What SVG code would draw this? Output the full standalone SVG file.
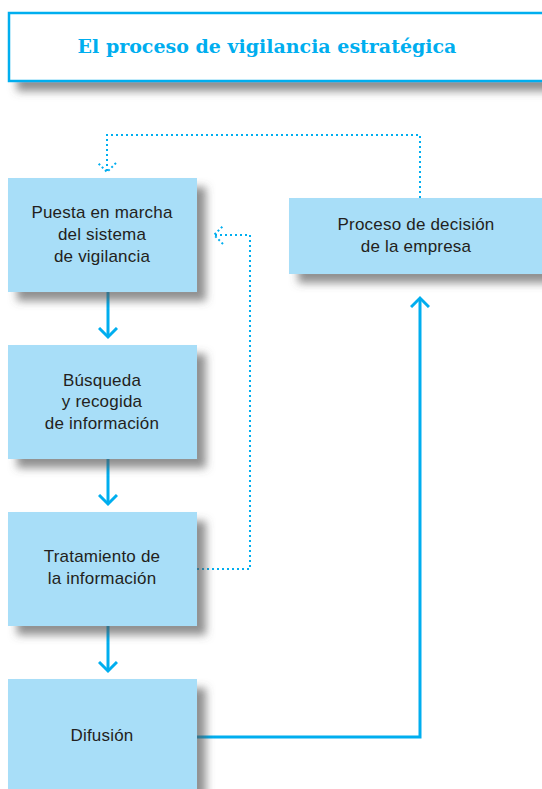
<svg xmlns="http://www.w3.org/2000/svg" width="542" height="789" viewBox="0 0 542 789">
<defs>
<filter id="sh" x="-10%" y="-10%" width="130%" height="140%">
<feDropShadow dx="9" dy="9" stdDeviation="4" flood-color="#555" flood-opacity="0.65"/>
</filter>
<marker id="ah" viewBox="0 0 20 20" refX="10" refY="10" markerWidth="20" markerHeight="20" markerUnits="userSpaceOnUse" orient="auto">
<path d="M1,1 L10,10 L1,19" fill="none" stroke="#00AEEF" stroke-width="3"/>
</marker>
<marker id="ahd" viewBox="0 0 20 20" refX="10" refY="10" markerWidth="20" markerHeight="20" markerUnits="userSpaceOnUse" orient="auto">
<path d="M1,1 L10,10 L1,19" fill="none" stroke="#00AEEF" stroke-width="2" stroke-dasharray="2 2.5"/>
</marker>
</defs>
<style>
.box{fill:#A8DEF8;filter:url(#sh)}
.t{font-family:"Liberation Sans","DejaVu Sans",sans-serif;font-size:17px;letter-spacing:0.2px;fill:#231F20;text-anchor:middle}
.ln{fill:none;stroke:#00AEEF;stroke-width:3}
.dt{fill:none;stroke:#00AEEF;stroke-width:2;stroke-dasharray:2 3}
</style>
<rect width="542" height="789" fill="#fff"/>
<g id="title">
<rect x="9" y="13" width="545" height="68" fill="#fff" stroke="#00AEEF" stroke-width="2.5" filter="url(#sh)"/>
<text x="267" y="53" font-family="'DejaVu Serif','Liberation Serif',serif" font-weight="bold" font-size="19" fill="#00AEEF" text-anchor="middle">El proceso de vigilancia estratégica</text>
</g>
<g id="connectors">
<line class="ln" x1="108" y1="292" x2="108" y2="337" marker-end="url(#ah)"/>
<line class="ln" x1="108" y1="459" x2="108" y2="504" marker-end="url(#ah)"/>
<line class="ln" x1="108" y1="626" x2="108" y2="671" marker-end="url(#ah)"/>
<polyline class="ln" points="197,737 420,737 420,298" marker-end="url(#ah)"/>
<polyline class="dt" points="197,569 250,569 250,235 214,235" marker-end="url(#ahd)"/>
<polyline class="dt" points="420,198 420,135 107,135 107,172" marker-end="url(#ahd)"/>
</g>
<g id="n1">
<rect class="box" x="8" y="178" width="189" height="114"/>
<text class="t" x="102" y="218">Puesta en marcha</text>
<text class="t" x="102" y="240">del sistema</text>
<text class="t" x="102" y="262">de vigilancia</text>
</g>
<g id="n2">
<rect class="box" x="8" y="345" width="189" height="114"/>
<text class="t" x="102" y="386">Búsqueda</text>
<text class="t" x="102" y="407">y recogida</text>
<text class="t" x="102" y="429">de información</text>
</g>
<g id="n3">
<rect class="box" x="8" y="512" width="189" height="114"/>
<text class="t" x="102" y="562">Tratamiento de</text>
<text class="t" x="102" y="584">la información</text>
</g>
<g id="n4">
<rect class="box" x="8" y="679" width="189" height="120"/>
<text class="t" x="102" y="741">Difusión</text>
</g>
<g id="n5">
<rect class="box" x="289" y="198" width="260" height="76"/>
<text class="t" x="416" y="230">Proceso de decisión</text>
<text class="t" x="416" y="252">de la empresa</text>
</g>
</svg>
